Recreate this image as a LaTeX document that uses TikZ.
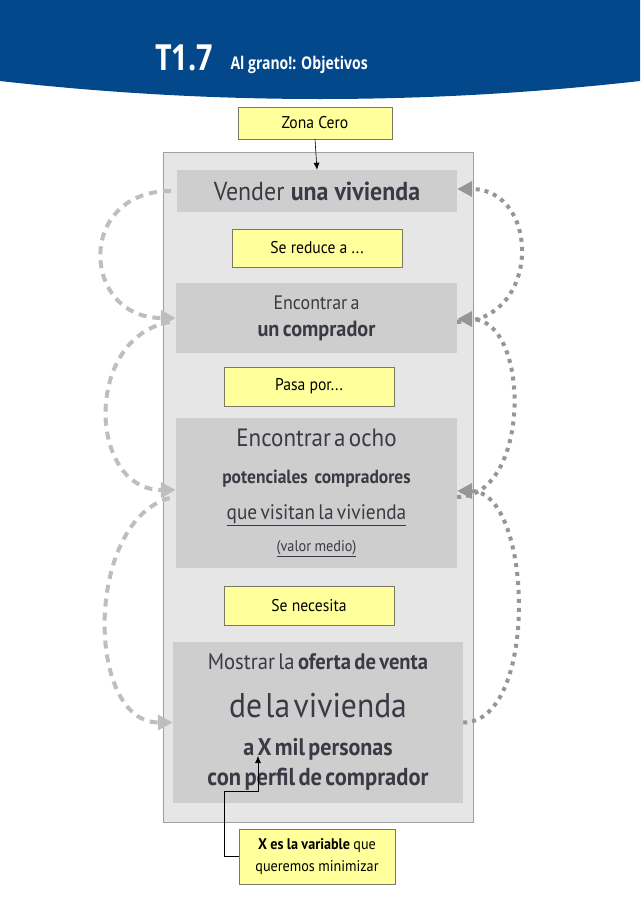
\documentclass[tikz,border=0pt]{standalone}
\usepackage{fontspec}
\setmainfont{PT Sans}
\newfontfamily\condfont[FakeStretch=0.92]{PT Sans}
\newfontfamily\headfont[FakeStretch=0.8]{Open Sans}
\usepackage{tikz}
\usetikzlibrary{arrows.meta}
\definecolor{headblue}{RGB}{4,72,140}
\definecolor{panelgrey}{RGB}{230,230,230}
\definecolor{panelline}{RGB}{160,160,160}
\definecolor{stagegrey}{RGB}{206,206,206}
\definecolor{inkgrey}{RGB}{58,58,68}
\definecolor{noteyellow}{RGB}{255,255,155}
\definecolor{noteline}{RGB}{120,120,100}
\definecolor{loopleft}{RGB}{190,190,190}
\definecolor{loopright}{RGB}{150,150,150}
\newcommand{\fsz}[2]{\fontsize{#1}{#2}\selectfont}
\tikzset{
  panel/.style    ={draw=panelline, fill=panelgrey, inner sep=0pt},
  stagebox/.style ={fill=stagegrey, align=center, text=inkgrey, font=\condfont, inner sep=0pt},
  notebox/.style  ={draw=noteline, fill=noteyellow, align=center, font=\condfont, inner sep=0pt},
  loopl/.style    ={draw=loopleft, line width=4pt, dash pattern=on 8pt off 6pt,
                    -{Triangle[length=15pt,width=15pt]}},
  loopr/.style    ={draw=loopright, line width=4pt, dash pattern=on 4pt off 5pt,
                    -{Triangle[length=15pt,width=15pt]}},
  ptr/.style      ={-{Latex[length=7pt,width=6pt]}, draw=black, semithick},
}
\begin{document}
\begin{tikzpicture}[x=1pt,y=1pt]
\useasboundingbox (0,0) rectangle (640,-905);
% header band
\fill[headblue] (0,0) -- (640,0) -- (640,-81) .. controls (427,-105) and (213,-105) .. (0,-81) -- cycle;
\node[anchor=base, text=white, font=\headfont\bfseries\fsz{36}{40}] (tnum) at (184,-70) {T1.7};
\node[anchor=base west, text=white, font=\headfont\bfseries\fsz{17.5}{20}] (ttitle) at (227,-69) {Al grano!: Objetivos};
% panel and stages
\node[panel, minimum width=310pt, minimum height=670pt] (panel) at (318,-487) {};
\node[notebox, minimum width=154pt, minimum height=32pt] (zona) at (315,-123) {\fsz{17}{20}Zona Cero};
\node[stagebox, minimum width=280pt, minimum height=42pt] (vender) at (317,-191)
  {\fsz{26}{30}Vender \textbf{una vivienda}};
\node[notebox, minimum width=170pt, minimum height=38pt] (reduce) at (317,-248) {\fsz{17}{20}Se reduce a ...};
\node[stagebox, text width=281pt, minimum height=70pt] (comprador) at (316.5,-318)
  {\fsz{19.5}{20}Encontrar a\par
   \fsz{22}{27}\bfseries un comprador\par};
\node[notebox, minimum width=170pt, minimum height=39pt] (pasa) at (309,-386.5) {\fsz{17}{20}Pasa por...};
\node[stagebox, text width=281pt, minimum height=150pt] (ocho) at (316.5,-493)
  {\fsz{25}{26}Encontrar a ocho\par
   \fsz{19}{37}\bfseries potenciales\ \ compradores\par
   \fsz{21}{36}\mdseries\underline{que visitan la vivienda}\par
   \fsz{15.5}{32}\mdseries\underline{(valor medio)}\par};
\node[notebox, minimum width=170pt, minimum height=39pt] (necesita) at (309,-605.5) {\fsz{17}{20}Se\ necesita};
\node[stagebox, text width=290pt, minimum height=161pt] (mostrar) at (318,-722.5)
  {\fsz{22.4}{24}Mostrar la \textbf{oferta de venta}\par
   \fsz{34.3}{48}de la vivienda\par
   \fsz{24}{38}\bfseries a X mil personas\par
   \fsz{24.5}{30}\bfseries con perfil de comprador\par};
\node[notebox, text width=156pt, minimum height=55pt] (xvar) at (317,-856.5)
  {\fsz{15.4}{16}\textbf{X es la variable} que\par
   \fsz{15.4}{22}queremos minimizar\par};
% pointers
\draw[ptr] (zona.south) -- (vender.north);
\coordinate (xbend) at (224,-791);
\coordinate (xtip) at (258,-756);
\draw[ptr] (xvar.west) -| (xbend) -| (xtip);
% loops on the left
\draw[loopl] ([xshift=-6pt]vender.west) to[out=180,in=180,distance=95pt] (comprador.west);
\draw[loopl] ([xshift=-6pt,yshift=-4pt]comprador.west) to[out=190,in=180,distance=88pt] ([yshift=3pt]ocho.west);
\draw[loopl] ([xshift=-6pt,yshift=-5pt]ocho.west) to[out=195,in=180,distance=88pt] (mostrar.west);
% loops on the right
\draw[loopr] ([yshift=-4pt]comprador.east) to[out=0,in=0,distance=84pt] ([yshift=2pt]vender.east);
\draw[loopr] ([yshift=-4pt]ocho.east) to[out=0,in=0,distance=74pt] ([yshift=-1pt]comprador.east);
\draw[loopr] (mostrar.east) to[out=0,in=0,distance=76pt] ([yshift=2pt]ocho.east);
\end{tikzpicture}
\end{document}
